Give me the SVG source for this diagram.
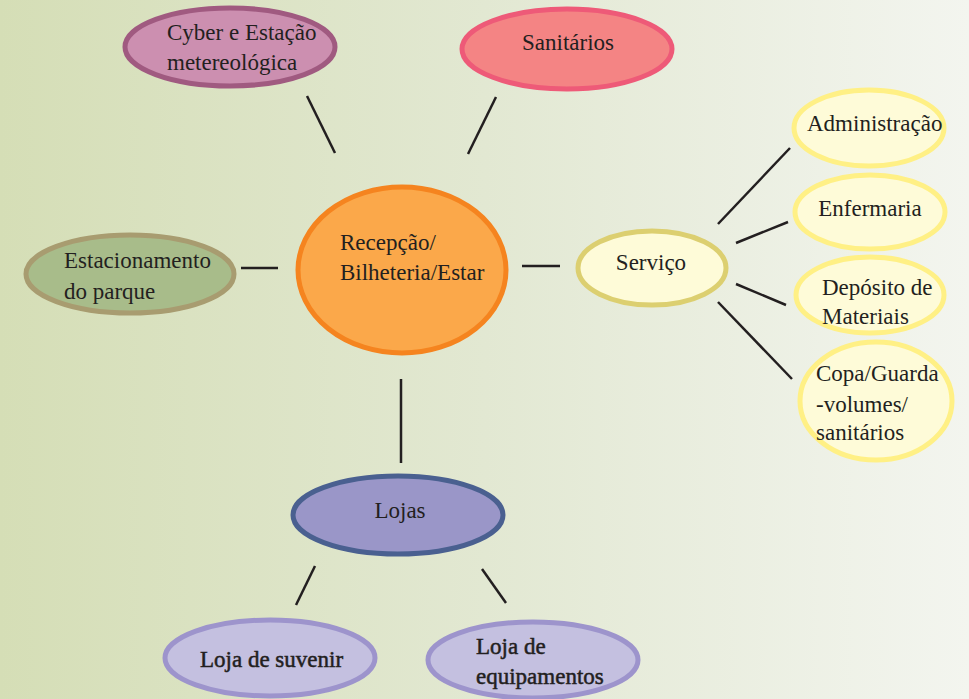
<svg xmlns="http://www.w3.org/2000/svg" width="969" height="699" viewBox="0 0 969 699">
<defs>
<linearGradient id="bg" x1="0" y1="0" x2="1" y2="0">
<stop offset="0" stop-color="#D5DEB6"/>
<stop offset="0.5" stop-color="#E2E8D2"/>
<stop offset="1" stop-color="#F3F5EF"/>
</linearGradient>
<style>
text{font-family:'Liberation Serif','Times New Roman',serif;font-size:23px;fill:#231F20}
.m{text-anchor:middle}
.b{stroke:#231F20;stroke-width:0.5}
.c line{stroke:#231F20;stroke-width:2.5}
ellipse{stroke-width:5}
.y ellipse{fill:#FEFBD8;stroke:#FFF085}
.p ellipse{fill:#C4C0E0;stroke:#9D94CC}
</style>
</defs>
<rect width="969" height="699" fill="url(#bg)"/>
<g class="c" id="connectors">
<line x1="307" y1="96" x2="335" y2="153"/>
<line x1="496" y1="97" x2="468" y2="154"/>
<line x1="241" y1="268" x2="278" y2="268"/>
<line x1="522" y1="266" x2="560" y2="266"/>
<line x1="401" y1="379" x2="401" y2="463"/>
<line x1="315" y1="566" x2="296" y2="605"/>
<line x1="482" y1="569" x2="506" y2="603"/>
<line x1="718" y1="224" x2="790" y2="148"/>
<line x1="736" y1="243" x2="788" y2="222"/>
<line x1="736" y1="284" x2="786" y2="305"/>
<line x1="718" y1="302" x2="792" y2="379"/>
</g>
<g id="cyber"><ellipse cx="230" cy="47" rx="105" ry="39" fill="#CC8FB0" stroke="#A05A80"/>
<text x="167" y="40">Cyber e Estação</text><text x="167" y="70">metereológica</text></g>
<g id="sanitarios"><ellipse cx="567" cy="49" rx="105" ry="40" fill="#F48484" stroke="#EE5A78"/>
<text class="m" x="568" y="50">Sanitários</text></g>
<g id="recepcao"><ellipse cx="402" cy="270" rx="104" ry="83" fill="#FBA84A" stroke="#F5841F"/>
<text x="340" y="250">Recepção/</text><text x="340" y="280">Bilheteria/Estar</text></g>
<g id="estacionamento"><ellipse cx="130" cy="274" rx="104" ry="39" fill="#A8BC8A" stroke="#A89C70"/>
<text x="64" y="268">Estacionamento</text><text x="64" y="299">do parque</text></g>
<g id="servico"><ellipse cx="652" cy="268" rx="74" ry="37" fill="#FEFBD8" stroke="#DCCF70"/>
<text class="m" x="651" y="270">Serviço</text></g>
<g id="administracao" class="y"><ellipse cx="869" cy="128" rx="75" ry="38"/>
<text x="807" y="131">Administração</text></g>
<g id="enfermaria" class="y"><ellipse cx="870" cy="212" rx="75" ry="37"/>
<text class="m" x="870" y="216">Enfermaria</text></g>
<g id="deposito" class="y"><ellipse cx="870" cy="295" rx="74" ry="38"/>
<text x="822" y="295">Depósito de</text><text x="822" y="324">Materiais</text></g>
<g id="copa" class="y"><ellipse cx="876" cy="401" rx="76" ry="59"/>
<text x="816" y="381">Copa/Guarda</text><text x="816" y="412">-volumes/</text><text x="816" y="440">sanitários</text></g>
<g id="lojas"><ellipse cx="398" cy="515" rx="105" ry="39" fill="#9A96C8" stroke="#4A6090"/>
<text class="m" x="400" y="518">Lojas</text></g>
<g id="suvenir" class="p"><ellipse cx="270" cy="658" rx="105" ry="38"/>
<text class="b" x="200" y="667">Loja de suvenir</text></g>
<g id="equipamentos" class="p"><ellipse cx="533" cy="660" rx="105" ry="38"/>
<text class="b" x="476" y="654">Loja de</text><text class="b" x="476" y="684">equipamentos</text></g>
</svg>
